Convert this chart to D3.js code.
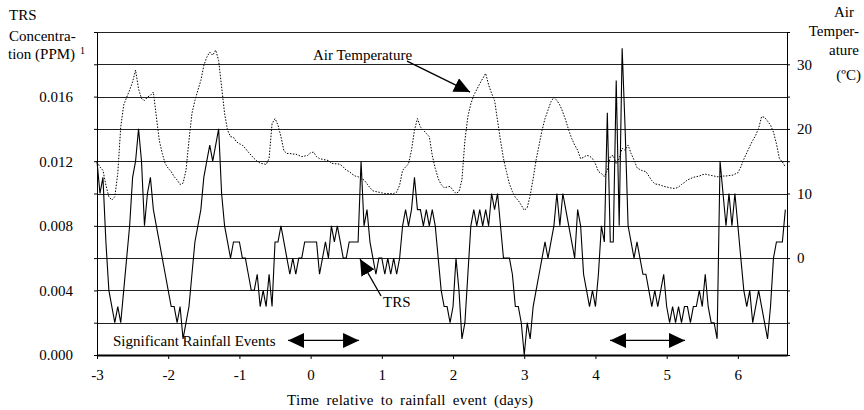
<!DOCTYPE html>
<html>
<head>
<meta charset="utf-8">
<script src="https://cdn.jsdelivr.net/npm/d3@7"></script>
<style>
body { margin: 0; background: #fff; }
svg text { font-family: "Liberation Serif", "Times New Roman", serif; font-size: 15px; fill: #000; }
</style>
</head>
<body>
<div id="chart"></div>
<script>
// hourly readings, first one taken 3 days before the rainfall event
var startDay = -3;

// TRS in thousandths of a ppm
var trsThousandths = [
  12,10,11,7,4,3,2,3,2,4,
  6,8,11,12,14,12,8,10,11,9,
  8,7,6,5,4,3,3,2,3,1,
  2,3,5,7,8,9,11,12,13,12,
  13,14,10,8,7,6,7,7,7,6,
  6,5,4,4,5,3,4,3,5,3,
  7,7,8,7,6,5,6,5,6,6,
  7,7,7,7,7,5,6,7,6,8,
  7,8,7,6,6,7,7,7,7,12,
  8,9,7,6,5,6,6,5,6,5,
  6,5,6,8,9,8,9,11,9,9,
  8,9,8,9,8,6,4,3,3,2,
  3,6,4,1,2,5,8,9,8,9,
  8,9,8,10,9,10,8,6,6,6,
  5,3,3,2,0,2,1,3,4,5,
  6,7,6,7,8,10,8,10,9,8,
  7,6,9,8,5,4,3,4,3,5,
  8,7,15,7,7,17,8,19,14,8,
  7,6,7,6,5,5,4,3,4,3,
  4,5,3,2,3,2,3,2,3,3,
  2,3,3,4,3,5,3,2,2,1,
  12,10,8,10,8,10,8,6,4,3,
  4,2,3,4,3,2,1,3,6,7,
  7,7,9
];

// air temperature, deg C
var airTemp = [
  14.9,14.1,13.6,11.3,9.5,9.0,9.5,13.1,20.3,23.7,
  24.9,26.0,27.3,29.1,26.2,24.7,24.4,24.9,25.2,25.7,
  21.9,18.2,16.2,14.6,13.9,13.4,12.6,12.1,11.4,11.6,
  13.6,18.2,22.4,24.4,26.0,27.5,29.8,31.1,31.9,31.4,
  32.2,30.6,26.5,22.4,19.8,18.8,18.7,18.0,17.7,17.5,
  17.0,16.4,15.9,15.4,15.0,14.7,14.6,14.5,15.4,20.8,
  21.6,20.6,18.8,16.6,16.2,16.2,16.1,16.1,15.9,15.7,
  15.8,15.9,16.3,16.4,15.7,15.4,15.3,15.2,15.1,14.7,
  14.6,14.6,14.5,14.1,13.6,13.4,13.0,12.7,12.6,12.3,
  12.1,11.5,10.9,10.4,10.3,10.2,10.1,10.0,10.0,10.0,
  10.0,10.2,11.3,13.6,14.1,14.6,16.7,19.8,21.6,20.3,
  19.8,19.3,18.8,15.9,13.9,12.3,11.4,10.9,11.0,11.1,
  10.5,10.0,10.3,12.1,18.2,21.9,23.9,25.2,26.1,27.0,
  27.8,28.6,26.8,25.5,24.4,21.3,18.2,15.4,13.4,11.5,
  10.3,9.4,8.9,8.2,7.4,7.8,9.7,12.3,15.2,17.5,
  19.8,21.6,22.9,24.2,24.9,24.4,23.7,22.6,21.3,19.8,
  18.5,17.5,16.7,15.4,15.6,15.9,15.8,15.4,14.6,13.4,
  13.1,12.6,13.6,15.7,15.9,14.6,15.4,17.0,16.7,17.5,
  16.2,15.2,14.0,13.7,13.5,13.4,12.7,12.0,11.5,11.4,
  11.3,11.1,11.0,10.9,10.8,10.8,11.0,11.4,11.7,12.1,
  12.3,12.5,12.6,12.7,12.9,13.0,12.9,12.8,12.7,12.6,
  12.6,12.7,12.7,12.8,12.8,13.0,13.2,14.1,15.3,16.3,
  17.3,18.2,19.0,20.1,21.9,21.8,21.2,20.6,19.5,17.7,
  15.4,14.9,14.1
];

var xTicks = [-3,-2,-1,0,1,2,3,4,5,6];
var xTickLabels = ["-3","-2","-1","0","1","2","3","4","5","6"];
var trsTicks = [0,0.002,0.004,0.006,0.008,0.010,0.012,0.014,0.016,0.018,0.020];
var trsLabelValues = [0,0.004,0.008,0.012,0.016];
var trsLabelText = ["0.000","0.004","0.008","0.012","0.016"];
var tempTicks = [-15,-10,-5,0,5,10,15,20,25,30,35];
var tempLabelValues = [0,10,20,30];
var tempLabelText = ["0","10","20","30"];

// annotations in data units (day, ppm)
var noteTexts = [
  {text: "Air Temperature", day: 0.034, ppm: 0.01827},
  {text: "TRS", day: 1.017, ppm: 0.00297},
  {text: "Significant Rainfall Events", day: -2.775, ppm: 0.00056}
];
var noteArrows = [
  {from: [1.354, 0.0182], to: [2.239, 0.01628], both: false},
  {from: [0.989, 0.00365], to: [0.694, 0.00594], both: false},
  {from: [-0.317, 0.0009], to: [0.68, 0.0009], both: true},
  {from: [4.205, 0.0009], to: [5.258, 0.0009], both: true}
];

var width = 864, height = 410;
var plotLeft = 97, plotRight = 787, plotTop = 32, plotBottom = 355;

var svg = d3.select("#chart").append("svg")
  .attr("width", width)
  .attr("height", height);

var x = d3.scaleLinear().domain([-3, 6.69]).range([plotLeft, plotRight]);
var yTrs = d3.scaleLinear().domain([0, 0.020]).range([plotBottom, plotTop]);
var yTemp = d3.scaleLinear().domain([-15, 35]).range([plotBottom, plotTop]);

// horizontal grid
svg.append("g").selectAll("line")
  .data(trsTicks.filter(d => d > 0))
  .enter().append("line")
  .attr("x1", plotLeft).attr("x2", plotRight)
  .attr("y1", d => Math.round(yTrs(d)) + 0.5)
  .attr("y2", d => Math.round(yTrs(d)) + 0.5)
  .attr("stroke", "#222")
  .attr("stroke-width", 1);

function labelFor(values, texts) {
  return function(d) {
    var i = values.findIndex(v => Math.abs(v - d) < 1e-9);
    return i < 0 ? "" : texts[i];
  };
}

var leftAxis = svg.append("g")
  .attr("transform", `translate(${plotLeft},0)`)
  .call(d3.axisLeft(yTrs).tickValues(trsTicks).tickSize(3).tickSizeOuter(0)
    .tickPadding(21).tickFormat(labelFor(trsLabelValues, trsLabelText)));

var rightAxis = svg.append("g")
  .attr("transform", `translate(${plotRight},0)`)
  .call(d3.axisRight(yTemp).tickValues(tempTicks).tickSize(3).tickSizeOuter(0)
    .tickPadding(7).tickFormat(labelFor(tempLabelValues, tempLabelText)));

var bottomAxis = svg.append("g")
  .attr("transform", `translate(0,${plotBottom})`)
  .call(d3.axisBottom(x).tickValues(xTicks).tickSize(4).tickSizeOuter(0)
    .tickPadding(10).tickFormat((d, i) => xTickLabels[i]));

svg.selectAll(".domain").attr("stroke", "#000");
svg.selectAll(".tick line").attr("stroke", "#000");
[leftAxis, rightAxis, bottomAxis].forEach(a => a.attr("font-size", null).attr("font-family", null));
bottomAxis.select(".domain").attr("stroke-width", 2);

// series
var trsLine = d3.line()
  .x((d, i) => x(startDay + i / 24))
  .y(d => yTrs(d / 1000));

var tempLine = d3.line()
  .x((d, i) => x(startDay + i / 24))
  .y(d => yTemp(d));

svg.append("path")
  .datum(airTemp)
  .attr("d", tempLine)
  .attr("fill", "none")
  .attr("stroke", "#000")
  .attr("stroke-width", 1)
  .attr("stroke-dasharray", "1.5,1.5");

svg.append("path")
  .datum(trsThousandths)
  .attr("d", trsLine)
  .attr("fill", "none")
  .attr("stroke", "#000")
  .attr("stroke-width", 1.1);

// annotations
svg.append("defs").append("marker")
  .attr("id", "head")
  .attr("markerUnits", "userSpaceOnUse")
  .attr("viewBox", "0 0 16 15")
  .attr("refX", 16).attr("refY", 7.5)
  .attr("markerWidth", 16).attr("markerHeight", 15)
  .attr("orient", "auto-start-reverse")
  .append("path")
  .attr("d", "M0,0L16,7.5L0,15Z")
  .attr("fill", "#000");

svg.append("g").selectAll("line")
  .data(noteArrows)
  .enter().append("line")
  .attr("x1", d => x(d.from[0])).attr("y1", d => yTrs(d.from[1]))
  .attr("x2", d => x(d.to[0])).attr("y2", d => yTrs(d.to[1]))
  .attr("stroke", "#000")
  .attr("stroke-width", 1.3)
  .attr("marker-end", "url(#head)")
  .attr("marker-start", d => d.both ? "url(#head)" : null);

svg.append("g").selectAll("text")
  .data(noteTexts)
  .enter().append("text")
  .attr("x", d => x(d.day))
  .attr("y", d => yTrs(d.ppm))
  .text(d => d.text);

// axis titles
var leftTitle = svg.append("g");
leftTitle.append("text").attr("x", 9).attr("y", 20).text("TRS");
leftTitle.append("text").attr("x", 9).attr("y", 41).text("Concentra-");
leftTitle.append("text").attr("x", 8).attr("y", 59).text("tion (PPM)");
leftTitle.append("text").attr("x", 80).attr("y", 54).style("font-size", "10px").text("1");

var rightTitle = svg.append("g").attr("text-anchor", "end");
rightTitle.append("text").attr("x", 854).attr("y", 17).text("Air");
rightTitle.append("text").attr("x", 859).attr("y", 36).text("Temper-");
rightTitle.append("text").attr("x", 859).attr("y", 55).text("ature");
rightTitle.append("text").attr("x", 861).attr("y", 80).text("(ºC)");

svg.append("text")
  .attr("x", 287).attr("y", 405)
  .style("word-spacing", "3px")
  .style("letter-spacing", "0.3px")
  .text("Time relative to rainfall event (days)");
</script>
</body>
</html>
